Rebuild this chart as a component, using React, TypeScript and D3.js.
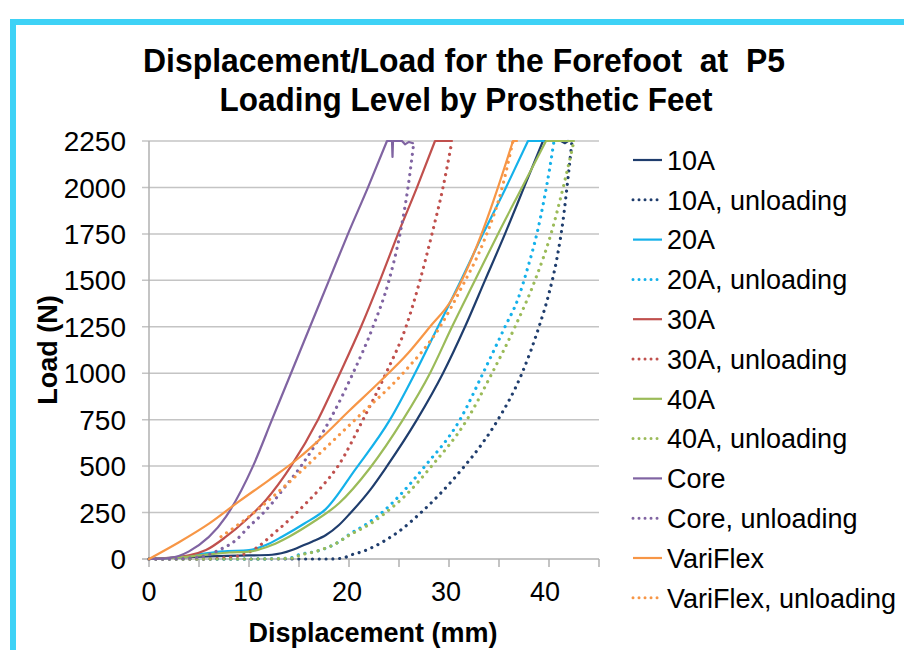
import React from "react";
import * as d3 from "d3";

type Pt = [number, number];

// [displacement (mm), load (N)]
const load10A: Pt[] = [[0,0],[3,8],[6,14],[9,18],[12.3,23],[14.3,48],[15.1,66],[16.3,93],[17.7,129],[19,183],[20.1,245],[22.1,371],[23.8,500],[26.8,750],[29.4,1000],[31.6,1250],[33.6,1500],[35.6,1750],[37.5,2000],[39.4,2250],[41.2,2250],[41.6,2238],[41.9,2250]];
const unload10A: Pt[] = [[0,0],[10,0],[15,0],[18.1,0],[19.4,5],[20.1,20],[21.4,41],[23.4,93],[25.4,165],[27.1,245],[29.0,345],[31.4,490],[33.3,620],[34.9,750],[37.3,1000],[39.0,1250],[40.0,1430],[40.8,1620],[41.4,1820],[41.9,2050],[42.3,2250]];
const load20A: Pt[] = [[0,0],[3,10],[5.7,30],[7.3,41],[10,48],[11.7,75],[13.3,120],[15.5,190],[17.7,270],[20.6,480],[24.1,750],[26.6,1000],[28.9,1250],[31.2,1500],[33.4,1750],[35.7,2000],[37.9,2250],[39.5,2250]];
const unload20A: Pt[] = [[0,0],[5,0],[10,0],[14,5],[15.1,25],[16.7,41],[18.4,75],[19,93],[20.1,135],[21.8,190],[23.5,260],[25.2,350],[27.6,500],[31.1,750],[33.4,1000],[35.6,1250],[36.9,1400],[37.9,1573],[38.8,1753],[39.5,1932],[40.1,2112],[40.5,2250]];
const load30A: Pt[] = [[0,0],[4,20],[5.7,48],[7.7,120],[9.7,210],[11.7,318],[14.2,500],[16.9,750],[19.1,1000],[21.2,1250],[23.1,1500],[24.9,1750],[26.8,2000],[28.6,2250],[30.3,2250]];
const unload30A: Pt[] = [[0,0],[5,0],[8.3,10],[10.7,58],[12.3,129],[14,210],[15.7,300],[17.2,385],[18.9,500],[21.4,750],[23.7,1000],[25.7,1250],[27.1,1500],[28.3,1750],[29.4,2000],[30.3,2250]];
const load40A: Pt[] = [[0,0],[3,8],[6,25],[8,35],[10,40],[12.3,75],[14,120],[16.3,195],[19,300],[22.1,490],[25.4,750],[28.1,1000],[30.3,1250],[32.6,1500],[34.9,1750],[37.3,2000],[39.7,2250],[42.5,2250]];
const unload40A: Pt[] = [[0,0],[10,0],[14.5,5],[15,18],[16.7,41],[18.4,75],[20.1,130],[22,185],[23.8,255],[25.8,350],[28.1,490],[31.8,750],[34.3,1000],[36.6,1250],[38.6,1500],[40.2,1750],[41.5,2018],[42.5,2250]];
const loadCore: Pt[] = [[0,0],[2,5],[4,41],[7.7,228],[10.4,500],[12.3,750],[14.2,1000],[16.1,1250],[18.0,1500],[19.9,1750],[21.9,2000],[23.8,2250],[24.3,2250],[24.35,2164],[24.4,2250],[25.3,2250],[25.6,2232],[26.0,2245],[26.4,2238]];
const unloadCore: Pt[] = [[0,0],[3,2],[5,10],[7,48],[8.7,102],[10,174],[11.2,235],[12.3,300],[13.7,395],[15.2,500],[18.1,750],[20.4,1000],[22.4,1250],[24.0,1500],[25.1,1750],[25.9,2000],[26.5,2250]];
const loadVariFlex: Pt[] = [[0,0],[3,90],[6,190],[9,310],[12,425],[15,545],[17,640],[20.1,802],[23,950],[25.9,1107],[28.1,1250],[30.2,1390],[31.8,1560],[33.4,1770],[34.9,2000],[36.4,2250],[36.8,2250]];
const unloadVariFlex: Pt[] = [[7.2,120],[10,228],[13.7,398],[17.5,590],[21,770],[25.4,1000],[29.1,1250],[31.3,1466],[33.4,1699],[35.3,1996],[36.4,2250]];

const seriesNames = ["10A","10A, unloading","20A","20A, unloading","30A","30A, unloading","40A","40A, unloading","Core","Core, unloading","VariFlex","VariFlex, unloading"];
const seriesData = [load10A, unload10A, load20A, unload20A, load30A, unload30A, load40A, unload40A, loadCore, unloadCore, loadVariFlex, unloadVariFlex];
const seriesColors = ["#1F3D6D","#1F3D6D","#14B1EA","#14B1EA","#C0504D","#C0504D","#9BBB59","#9BBB59","#8064A2","#8064A2","#F79646","#F79646"];

const yTicks = [0,250,500,750,1000,1250,1500,1750,2000,2250];
const xMinorTicks = [0,5,10,15,20,25,30,35,40,45];
const xLabels = [0,10,20,30,40];

const FONT = "'Liberation Sans', Arial, sans-serif";

export default function App() {
  const x = d3.scaleLinear().domain([0, 45]).range([149, 599]);
  const y = d3.scaleLinear().domain([0, 2250]).range([559, 141]);
  const smooth = d3.line<Pt>().x(d => x(d[0])).y(d => y(d[1])).curve(d3.curveMonotoneX);

  // smooth rising part up to the first peak, straight segments afterwards (plateau)
  const pathFor = (data: Pt[]) => {
    const maxLoad = d3.max(data, d => d[1]) ?? 0;
    const k = data.findIndex(d => d[1] >= maxLoad);
    const rising = data.slice(0, k + 1);
    const tail = data.slice(k + 1);
    let p = smooth(rising) || "";
    tail.forEach(d => { p += `L${x(d[0])},${y(d[1])}`; });
    return p;
  };

  return (
    <svg width={904} height={650} style={{ position: "absolute", left: 0, top: 0, background: "#fff" }}>
      <rect x={0} y={0} width={904} height={650} fill="#fff" />
      {/* frame */}
      <rect x={10} y={19} width={900} height={6} fill="#3ED2F6" />
      <rect x={10} y={19} width={6} height={640} fill="#3ED2F6" />

      {/* title */}
      <text x={464} y={72} textAnchor="middle" fontFamily={FONT} fontWeight="bold" fontSize={34} fill="#000"
        textLength={642} lengthAdjust="spacingAndGlyphs" style={{ whiteSpace: "pre" }}>Displacement/Load for the Forefoot  at  P5</text>
      <text x={466} y={111} textAnchor="middle" fontFamily={FONT} fontWeight="bold" fontSize={34} fill="#000"
        textLength={493} lengthAdjust="spacingAndGlyphs">Loading Level by Prosthetic Feet</text>

      {/* grid */}
      {yTicks.map(t => (
        <g key={t}>
          <line x1={142} x2={599} y1={y(t)} y2={y(t)} stroke={t === 0 ? "#B0B0B0" : "#C4C4C4"} strokeWidth={1.5} />
          <text x={126} y={y(t)} dy="0.36em" textAnchor="end" fontFamily={FONT} fontSize={28} fill="#000">{t}</text>
        </g>
      ))}
      <line x1={149} x2={149} y1={141} y2={559} stroke="#B0B0B0" strokeWidth={1.5} />
      {xMinorTicks.map(t => (
        <line key={t} x1={x(t)} x2={x(t)} y1={559} y2={567} stroke="#B0B0B0" strokeWidth={1.5} />
      ))}
      {xLabels.map(t => (
        <text key={t} x={x(t) - t * 0.1} y={601} textAnchor="middle" fontFamily={FONT} fontSize={27} fill="#000">{t}</text>
      ))}

      {/* axis titles */}
      <text x={373} y={642} textAnchor="middle" fontFamily={FONT} fontWeight="bold" fontSize={27} fill="#000">Displacement (mm)</text>
      <text transform="translate(57,350) rotate(-90)" textAnchor="middle" fontFamily={FONT} fontWeight="bold" fontSize={27} fill="#000">Load (N)</text>

      {/* series */}
      {seriesData.map((data, i) => {
        const dotted = i % 2 === 1;
        return (
          <path key={i} d={pathFor(data)} fill="none" stroke={seriesColors[i]}
            strokeWidth={dotted ? 3.2 : 2.2}
            strokeDasharray={dotted ? "0.01 6.8" : undefined}
            strokeLinecap="round" strokeLinejoin="round" />
        );
      })}

      {/* legend */}
      {seriesNames.map((name, i) => {
        const ly = 160 + i * 39.8;
        const dotted = i % 2 === 1;
        return (
          <g key={name}>
            <line x1={633} x2={662} y1={ly} y2={ly} stroke={seriesColors[i]}
              strokeWidth={dotted ? 3 : 2.2}
              strokeDasharray={dotted ? "0.01 6" : undefined}
              strokeLinecap={dotted ? "round" : "butt"} />
            <text x={667} y={ly} dy="0.36em" fontFamily={FONT} fontSize={27} fill="#000">{name}</text>
          </g>
        );
      })}
    </svg>
  );
}
